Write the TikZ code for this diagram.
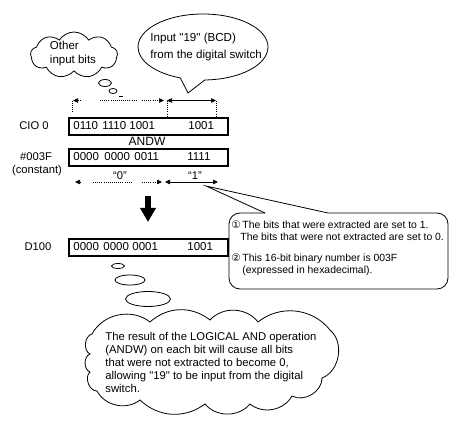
\documentclass[tikz,border=0pt]{standalone}
\usepackage{fontspec}
\setmainfont{Liberation Sans}[Ligatures=TeXOff]
\newfontfamily\djv{DejaVu Sans}
\usetikzlibrary{arrows.meta,shapes.symbols,shapes.callouts,shapes.geometric}
\begin{document}
\begin{tikzpicture}[x=1pt,y=-1pt,line width=0.8pt,
  reg/.style={draw,line width=1.6pt,minimum width=159pt,minimum height=17pt,inner sep=0,anchor=north west},
  bits/.style={anchor=base west,inner sep=0,font=\fontsize{11.5}{13}\selectfont},
  lbl/.style={inner sep=0,font=\fontsize{11.2}{13}\selectfont},
  dotl/.style={line width=0.7pt,dash pattern=on 0.8pt off 1.3pt},
  tipr/.style={-{Triangle[length=5pt,width=4.5pt]}},
  tipl/.style={{Triangle[length=5pt,width=4.5pt]}-},
  biarr/.style={{Triangle[length=5pt,width=4.5pt]}-{Triangle[length=5pt,width=4.5pt]},line width=0.7pt},
  bubble/.style={draw,ellipse,inner sep=0},
  thought/.style={draw,cloud,inner sep=0,cloud ignores aspect},
  bigarrow/.style={line width=6pt,-{Triangle[length=14pt,width=15pt]}}]
\useasboundingbox (0,0) rectangle (450,422);
\fill[white] (0,0) rectangle (450,422);

% Other input bits cloud
\node[thought,cloud puffs=9,cloud puff arc=115,minimum width=87pt,minimum height=46pt] (oc) at (74,55) {};
\node[lbl,align=left,font=\fontsize{11.5}{14}\selectfont] (ot) at (73,54) {Other\\input bits};
\node[bubble,minimum width=13pt,minimum height=7pt] (ob1) at (105,83) {};
\node[bubble,minimum width=8pt,minimum height=5pt] (ob2) at (113,91) {};
\draw[line width=1.3pt] (119,96.5) -- (123,96.5);

% speech bubble
\node[ellipse callout,draw,minimum width=130pt,minimum height=66pt,inner sep=0,
      callout absolute pointer={(188,93)},callout pointer arc=22] (sp) at (203,47) {};
\node[lbl,anchor=west,align=left,font=\fontsize{11.6}{17}\selectfont] (spt) at (150,47) {Input "19" (BCD)\\from the digital switch};

% top dimension row
\coordinate (t1) at (73,100.5);
\coordinate (t2) at (80,100.5);
\coordinate (t3) at (100,100.5);
\coordinate (t4) at (137,100.5);
\coordinate (t5) at (142,100.5);
\coordinate (t6) at (164,100.5);
\coordinate (t7) at (167,100.5);
\coordinate (t8) at (216,100.5);
\draw[dotl,tipl] (t1) -- (t2);
\draw[dotl] (t3) -- (t4);
\draw[dotl,tipr] (t5) -- (t6);
\draw[biarr] (t7) -- (t8);
\coordinate (v1a) at (72,101);   \coordinate (v1b) at (72,113);
\coordinate (v2a) at (167,101);  \coordinate (v2b) at (167,117);
\coordinate (v3a) at (216,101);  \coordinate (v3b) at (216,117);
\draw[dotl] (v1a) -- (v1b);
\draw[dotl] (v2a) -- (v2b);
\draw[dotl] (v3a) -- (v3b);

% registers
\node[reg] (cio) at (68,117) {};
\node[bits] (c1) at (73,130) {0110};
\node[bits] (c2) at (102,130) {1110};
\node[bits] (c3) at (129,130) {1001};
\node[bits] (c4) at (188,130) {1001};
\node[lbl] (ciol) at (34,125.5) {CIO 0};
\node[lbl,font=\fontsize{12}{13}\selectfont] (andw) at (147,141.5) {ANDW};
\node[reg] (cst) at (68,148) {};
\node[bits] (k1) at (73,161) {0000};
\node[bits] (k2) at (104,161) {0000};
\node[bits] (k3) at (134,161) {0011};
\node[bits] (k4) at (187,161) {1111};
\node[lbl] (cstl) at (36,156.5) {\#003F};
\node[lbl] (cstc) at (37,171) {(constant)};

% bottom dimension row
\coordinate (b1) at (75,182);
\coordinate (b2) at (81,182);
\coordinate (b3) at (93,182);
\coordinate (b4) at (132,182);
\coordinate (b5) at (142,182);
\coordinate (b6) at (162,182);
\coordinate (b7) at (165,182);
\coordinate (b8) at (218,182);
\draw[dotl,tipl] (b1) -- (b2);
\draw[dotl] (b3) -- (b4);
\draw[dotl,tipr] (b5) -- (b6);
\draw[biarr] (b7) -- (b8);
\node[lbl] (q0) at (120,176) {“0”};
\node[lbl] (q1) at (195,176) {“1”};

% big arrow
\coordinate (ar1) at (148,196);
\coordinate (ar2) at (148,222);
\draw[bigarrow] (ar1) -- (ar2);

% result register
\node[reg] (d) at (68,238) {};
\node[bits] (d1) at (73,251) {0000};
\node[bits] (d2) at (103,251) {0000};
\node[bits] (d3) at (132,251) {0001};
\node[bits] (d4) at (187,251) {1001};
\node[lbl] (dl) at (38,246.5) {D100};

% callout box
\coordinate (ptip) at (206,186);
\coordinate (pa) at (265,213);
\coordinate (pb) at (328,213);
\draw[rounded corners=11pt] (pa) -- (229,213) -- (229,289) -- (448,289) -- (448,213) -- (pb);
\draw (pa) -- (ptip) -- (pb);
\node[inner sep=0,anchor=north west,align=left,font=\fontsize{10.4}{12.5}\selectfont] (note) at (231,220)
 {{\djv ①}\,The bits that were extracted are set to 1.\\
  \hspace*{9pt}The bits that were not extracted are set to 0.\\[8pt]
  {\djv ②}\,This 16-bit binary number is 003F\\
  \hspace*{11pt}(expressed in hexadecimal).};

% result thought cloud
\node[bubble,minimum width=13pt,minimum height=5pt] (rb1) at (118,266) {};
\node[bubble,minimum width=30pt,minimum height=10pt] (rb2) at (130,280) {};
\node[bubble,minimum width=45pt,minimum height=15pt] (rb3) at (148,299) {};
\draw (92,334) to[bend left=50] (150,322) to[bend left=40] (210,320)
  to[bend left=50] (258,322) to[bend left=45] (330,330) to[bend left=60] (322,378)
  to[bend left=60] (292,396) to[bend left=50] (250,404) to[bend left=50] (205,404)
  to[bend left=40] (140,400) to[bend left=50] (97,391) to[bend left=70] (90,372)
  to[bend left=70] (90,354) to[bend left=70] (92,334) -- cycle;
\node[lbl,anchor=west,align=left,font=\fontsize{11.3}{13}\selectfont] (rt) at (105,362)
 {The result of the LOGICAL AND operation\\(ANDW) on each bit will cause all bits\\that were not extracted to become 0,\\allowing "19" to be input from the digital\\switch.};
\end{tikzpicture}
\end{document}
